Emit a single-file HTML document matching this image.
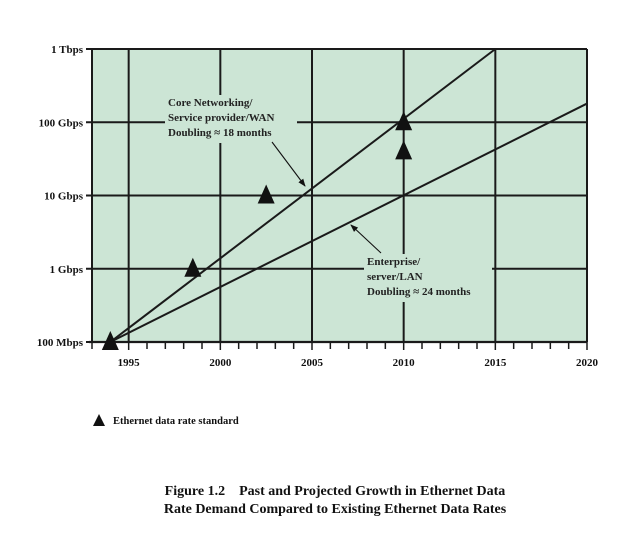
<!DOCTYPE html>
<html><head><meta charset="utf-8"><style>
body{margin:0;background:#fff;width:621px;height:536px;overflow:hidden}
svg{display:block;font-family:"Liberation Serif",serif;font-weight:bold}
</style></head><body>
<svg id="chart" width="621" height="536" viewBox="0 0 621 536" xmlns="http://www.w3.org/2000/svg">
<defs><marker id="ah" markerWidth="8" markerHeight="8" refX="7" refY="4" orient="auto" markerUnits="userSpaceOnUse"><path d="M0,1 L8,4 L0,7 Z" fill="#111"/></marker></defs>
<g id="plot"></g>
<text x="113" y="424" font-size="10.5" fill="#111">Ethernet data rate standard</text>
<polygon points="93,426 99,414 105,426" fill="#111"/>
<text x="335" y="495" font-size="14" text-anchor="middle" fill="#111">Figure 1.2&#160;&#160;&#160;&#160;Past and Projected Growth in Ethernet Data</text>
<text x="335" y="513" font-size="14" text-anchor="middle" fill="#111">Rate Demand Compared to Existing Ethernet Data Rates</text>
</svg>
<script>
const yTickValues=[0.1,1,10,100,1000];
const yTickLabels=["100 Mbps","1 Gbps","10 Gbps","100 Gbps","1 Tbps"];
const xTickYears=[1995,2000,2005,2010,2015,2020];
const stdYears=[1994,1998.5,2002.5,2010,2010];
const stdRates=[0.1,1,10,100,40];
const coreLine={years:[1994,2015],rates:[0.1,1000]};
const entLine={years:[1994,2020],rates:[0.1,180]};
const L=92,R=587,T=49,B=342,X0=1993,X1=2020;
const sx=y=>L+(y-X0)*(R-L)/(X1-X0);
const sy=v=>B-(Math.log10(v)+1)*(B-T)/4;
const NS="http://www.w3.org/2000/svg";
const g=document.getElementById('plot');
function mk(t,a,p){const e=document.createElementNS(NS,t);for(const k in a)e.setAttribute(k,a[k]);(p||g).appendChild(e);return e;}
let e=mk('rect',{x:L,y:T,width:R-L,height:B-T,fill:'#cce5d5'});


yTickValues.forEach((v,i)=>{const y=sy(v);
 let l=mk('line',{x1:L-6,x2:R,y1:y,y2:y,stroke:'#1a1a1a','stroke-width':2});
 
 
 let t=mk('text',{x:L-9,y:y+4,'font-size':11,'text-anchor':'end',fill:'#111'});t.textContent=yTickLabels[i];
 
 
});
xTickYears.forEach(yr=>{const x=sx(yr);
 if(yr<X1){let l=mk('line',{x1:x,x2:x,y1:T,y2:B,stroke:'#1a1a1a','stroke-width':2});
 
 }
 let t=mk('text',{x:x,y:366,'font-size':11,'text-anchor':'middle',fill:'#111'});t.textContent=yr;
 
 
});
for(let yr=X0;yr<=X1;yr++){const x=sx(yr);
 let l=mk('line',{x1:x,x2:x,y1:B,y2:B+(yr%5==0?8:7),stroke:'#1a1a1a','stroke-width':1.5});
 
 }
e=mk('line',{x1:L,x2:L,y1:T,y2:B,stroke:'#1a1a1a','stroke-width':2});


e=mk('line',{x1:R,x2:R,y1:T,y2:B,stroke:'#1a1a1a','stroke-width':2});


e=mk('line',{x1:L-3,x2:R,y1:B,y2:B,stroke:'#1a1a1a','stroke-width':2.2});


[[coreLine,'core-trend-line'],[entLine,'enterprise-trend-line']].forEach(([d,n])=>{
 let l=mk('line',{x1:sx(d.years[0]),y1:sy(d.rates[0]),x2:sx(d.years[1]),y2:sy(d.rates[1]),stroke:'#1a1a1a','stroke-width':2});
 
 
});
stdYears.forEach((yr,i)=>{const x=sx(yr),y=sy(stdRates[i]);
 let p=mk('polygon',{points:`${x-8.5},${y+8} ${x},${y-11} ${x+8.5},${y+8}`,fill:'#111'});
 
 
});
function label(x,y,lines,name,bw){let r=mk('rect',{x:x-3,y:y-11,width:bw,height:lines.length*15+3,fill:'#cce5d5'});
 
 
 lines.forEach((s,i)=>{let t=mk('text',{x:x,y:y+i*15,'font-size':11,fill:'#222'});t.textContent=s;
 
 });}
label(168,106,["Core Networking/","Service provider/WAN","Doubling \u2248 18 months"],'core-annotation',132);
label(367,265,["Enterprise/","server/LAN","Doubling \u2248 24 months"],'enterprise-annotation',128);
e=mk('line',{x1:272,y1:142,x2:305,y2:186,stroke:'#111','stroke-width':1.1,'marker-end':'url(#ah)'});


e=mk('line',{x1:381,y1:253,x2:351,y2:225,stroke:'#111','stroke-width':1.1,'marker-end':'url(#ah)'});


</script>
</body></html>
